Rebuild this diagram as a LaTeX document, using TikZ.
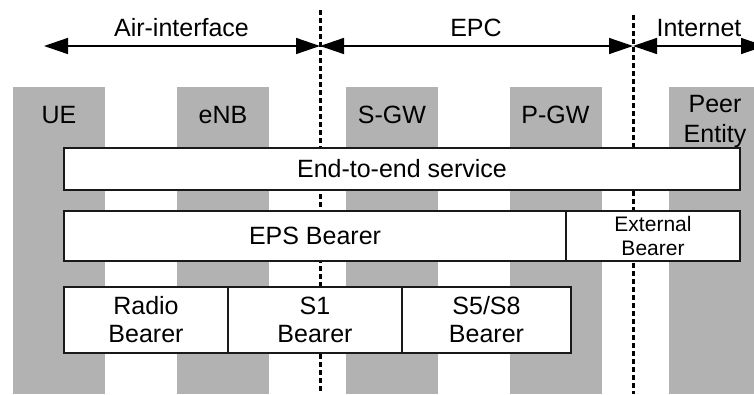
\documentclass[tikz,border=0pt]{standalone}
\usepackage{fontspec}
\setmainfont{Liberation Sans}
\usetikzlibrary{arrows.meta}
\begin{document}
\begin{tikzpicture}[x=1pt,y=-1pt,
  column/.style={fill=black!30, draw=none, inner sep=0pt,
    minimum width=92pt, minimum height=307pt},
  lbl/.style={font=\fontsize{25}{30}\selectfont, anchor=base, inner sep=0pt, align=center},
  bar/.style={draw=black!90, line width=2pt, fill=white, inner sep=0pt, align=center,
    font=\fontsize{25}{28}\selectfont},
  smallbar/.style={bar, font=\fontsize{21}{24}\selectfont},
  border/.style={line width=3pt, dash pattern=on 4.5pt off 3.5pt},
  span/.style={line width=1.5pt,
    {Triangle[length=24pt,width=16pt]}-{Triangle[length=24pt,width=16pt]}}]
\useasboundingbox (0,0) rectangle (754,394);
\clip (0,0) rectangle (754,394);

% network element columns
\node[column] (ue)   at (59,240.5)  {};
\node[column] (enb)  at (223,240.5) {};
\node[column] (sgw)  at (392,240.5) {};
\node[column] (pgw)  at (555.5,240.5) {};
\node[column] (peer) at (715,240.5) {};

\node[lbl] (uelbl)   at (59,123)  {UE};
\node[lbl] (enblbl)  at (223,123) {eNB};
\node[lbl] (sgwlbl)  at (392,123) {S-GW};
\node[lbl] (pgwlbl)  at (555.5,123) {P-GW};
\node[lbl] (peerlbl) at (715,112) {Peer};
\node[lbl] (entlbl)  at (715,142) {Entity};

% domain borders
\coordinate (b1top) at (320,10);
\coordinate (b1bot) at (320,394);
\coordinate (b2top) at (633,15);
\coordinate (b2bot) at (633,394);
\draw[border] (b1top) -- (b1bot);
\draw[border] (b2top) -- (b2bot);

% domain spans
\coordinate (airl) at (44,46);
\coordinate (b1)   at (320,46);
\coordinate (b2)   at (633,46);
\coordinate (netr) at (765,46);
\draw[span] (airl) -- (b1);
\draw[span] (b1) -- (b2);
\draw[span] (b2) -- (netr);

\node[lbl] (airlbl) at (181.5,36) {Air-interface};
\node[lbl] (epclbl) at (476,36)   {EPC};
\node[lbl] (netlbl) at (699,36)   {Internet};

% bearer layers
\node[bar, minimum width=676pt, minimum height=42pt] (e2e) at (402,169) {End-to-end service};
\node[bar, minimum width=502pt, minimum height=50pt] (eps) at (315,236) {EPS Bearer};
\node[smallbar, minimum width=174pt, minimum height=50pt] (ext) at (653,236) {External\\Bearer};
\node[bar, minimum width=164pt, minimum height=66pt] (radio) at (146,320) {Radio\\Bearer};
\node[bar, minimum width=174pt, minimum height=66pt] (s1) at (315,320) {S1\\Bearer};
\node[bar, minimum width=169pt, minimum height=66pt] (s5) at (486.5,320) {S5/S8\\Bearer};
\end{tikzpicture}
\end{document}
